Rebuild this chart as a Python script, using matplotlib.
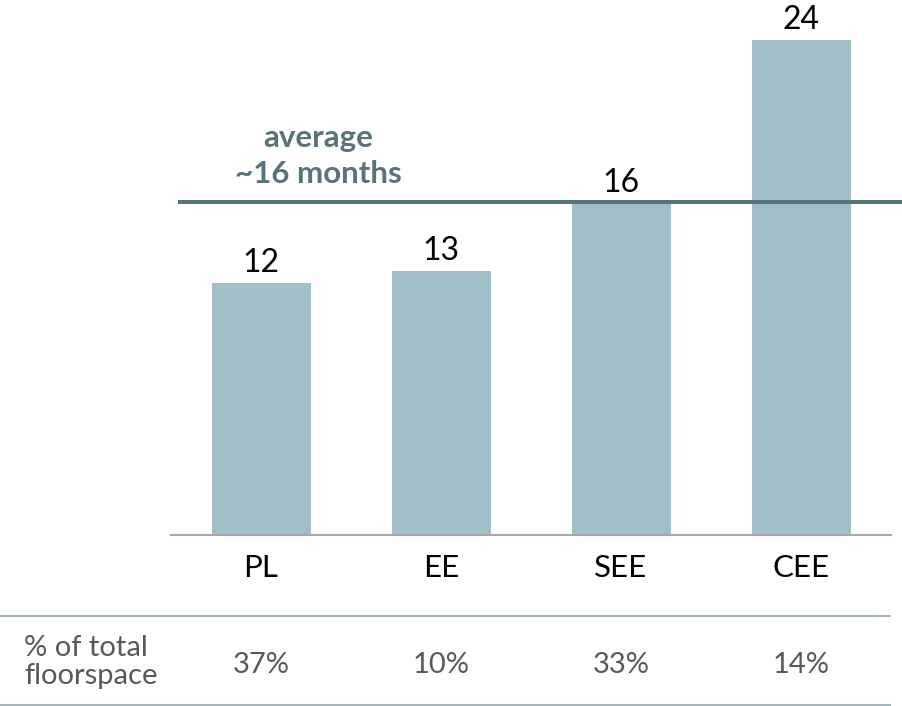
import matplotlib.pyplot as plt
from matplotlib.lines import Line2D
from matplotlib import transforms

plt.rcParams['font.family'] = ['Lato', 'DejaVu Sans']

# ----------------------------
# Data
# ----------------------------
regions = ["PL", "EE", "SEE", "CEE"]
months = [12.2, 12.8, 16.1, 24.0]          # bar heights
month_labels = ["12", "13", "16", "24"]
floorspace = ["37%", "10%", "33%", "14%"]
average = 16.15
average_text = ["average", "~16 months"]
row_label = "% of total\nfloorspace"

bar_color = "#a0bfc8"
avg_color = "#587478"
grey_text = "#595959"

# ----------------------------
# Figure / axes (pixel based layout: 902x706)
# ----------------------------
W, H = 902, 706
fig = plt.figure(figsize=(W / 100, H / 100), dpi=100)
ax = fig.add_axes([171 / W, 171 / H, 720 / W, 535 / H])

x = list(range(len(regions)))
ax.bar(x, months, width=0.55, color=bar_color, zorder=2)
ax.set_xlim(-0.5, 3.5)
ax.set_ylim(0, 535 / 20.625)

# value labels above bars
for xi, v, lab in zip(x, months, month_labels):
    ax.annotate(lab, (xi, v), xytext=(0, 8), textcoords="offset points",
                ha="center", va="baseline", fontsize=23, color="black")

# average line + label
ax.plot([-0.461, 3.561], [average, average], color=avg_color, lw=2.9,
        clip_on=False, zorder=3, solid_capstyle="butt")
ax.text(0.317, (535 - 147) / 20.625, average_text[0], ha="center", va="baseline",
        fontsize=22.5, fontweight="bold", color=avg_color)
ax.text(0.317, (535 - 183) / 20.625, average_text[1], ha="center", va="baseline",
        fontsize=22.5, fontweight="bold", color=avg_color)

# axis styling
for s in ["top", "right", "left"]:
    ax.spines[s].set_visible(False)
ax.spines["bottom"].set_color("#a8a8a8")
ax.spines["bottom"].set_linewidth(1.5)
ax.set_yticks([])
ax.set_xticks([])

# category labels and floorspace row
trans = transforms.blended_transform_factory(ax.transData, fig.transFigure)
for xi, r, f in zip(x, regions, floorspace):
    ax.text(xi, (H - 577) / H, r, transform=trans, ha="center", va="baseline",
            fontsize=22.5, color="black")
    ax.text(xi, (H - 673) / H, f, transform=trans, ha="center", va="baseline",
            fontsize=21, color=grey_text)

fig.text(24 / W, (H - 684) / H, row_label, ha="left", va="baseline",
         fontsize=21, color=grey_text, linespacing=1.08)

# table lines
fig.add_artist(Line2D([0, 890 / W], [(H - 616) / H] * 2, color="#a3b8bd", lw=1.5))
fig.add_artist(Line2D([0, 890 / W], [(H - 705) / H] * 2, color="#a3b8bd", lw=1.5))

fig.savefig("out.png", dpi=100)
